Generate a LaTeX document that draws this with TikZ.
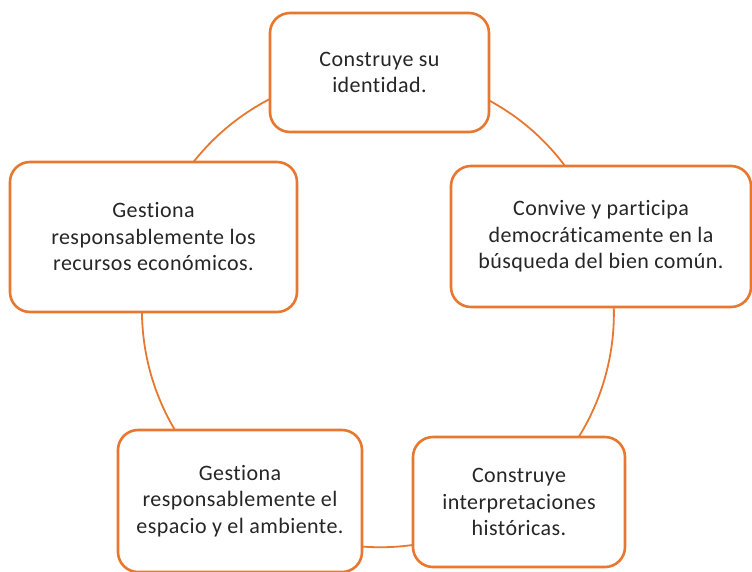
\documentclass[tikz,border=0pt]{standalone}
\usepackage{fontspec}
\setmainfont{Carlito}[Ligatures=NoCommon, LetterSpace=2]
\usetikzlibrary{backgrounds}
\definecolor{naranja}{HTML}{E8782F}

\begin{document}
\begin{tikzpicture}[x=1pt, y=1pt,
	caja/.style={draw=naranja, line width=2.6pt, fill=white, rounded corners=20pt, align=center, inner sep=0pt, text=black!85, font=\fontsize{22}{26.5}\selectfont},
	arco/.style={draw=naranja, line width=1.8pt, bend left=36, looseness=0.95}]

	\useasboundingbox (0,0) rectangle (752,-571);

	\node[caja, minimum width=219, minimum height=119] (iden) at (379.5,-72.5) {Construye su\\identidad.};
	\node[caja, minimum width=300, minimum height=141] (conv) at (601,-236.5) {Convive y participa\\democráticamente en la\\búsqueda del bien común.};
	\node[caja, minimum width=212, minimum height=130] (hist) at (519,-502) {Construye\\interpretaciones\\históricas.};
	\node[caja, minimum width=244, minimum height=142] (espa) at (240,-501) {Gestiona\\responsablemente el\\espacio y el ambiente.};
	\node[caja, minimum width=287, minimum height=150] (recu) at (153.5,-237) {Gestiona\\responsablemente los\\recursos económicos.};

	\begin{scope}[on background layer]
		\path (iden.center) edge[arco] (conv.center);
		\path (conv.center) edge[arco] (hist.center);
		\path (hist.center) edge[arco] (espa.center);
		\path (espa.center) edge[arco] (recu.center);
		\path (recu.center) edge[arco] (iden.center);
	\end{scope}

\end{tikzpicture}
\end{document}
